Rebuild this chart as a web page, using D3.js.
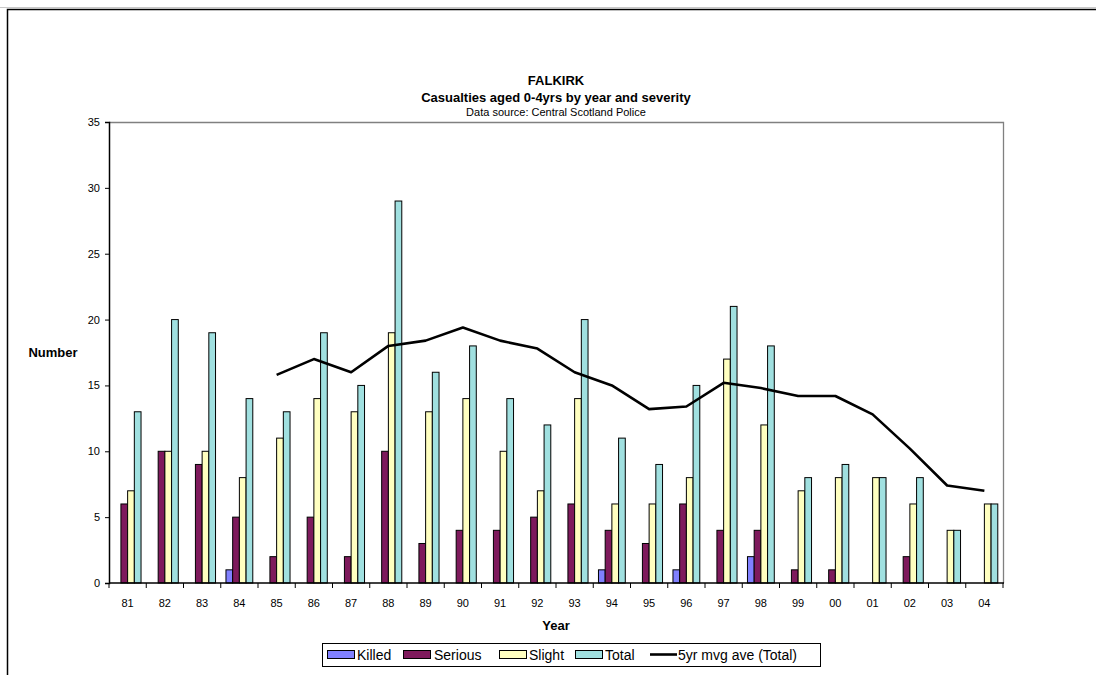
<!DOCTYPE html>
<html>
<head>
<meta charset="utf-8">
<script src="https://cdn.jsdelivr.net/npm/d3@7"></script>
<style>
  html, body { margin: 0; padding: 0; background: #fff; }
  svg { display: block; font-family: "Liberation Sans", Arial, sans-serif; }
</style>
</head>
<body>
<svg id="chart" width="1096" height="675"></svg>
<script>
// Road casualties aged 0-4, Falkirk, by year and severity
const years   = ["81","82","83","84","85","86","87","88","89","90","91","92","93","94","95","96","97","98","99","00","01","02","03","04"];
const killed  = [0,0,0,1,0,0,0,0,0,0,0,0,0,1,0,1,0,2,0,0,0,0,0,0];
const serious = [6,10,9,5,2,5,2,10,3,4,4,5,6,4,3,6,4,4,1,1,0,2,0,0];
const slight  = [7,10,10,8,11,14,13,19,13,14,10,7,14,6,6,8,17,12,7,8,8,6,4,6];
const total   = [13,20,19,14,13,19,15,29,16,18,14,12,20,11,9,15,21,18,8,9,8,8,4,6];
// 5-year moving average of Total (first value at 85)
const mvgYears = ["85","86","87","88","89","90","91","92","93","94","95","96","97","98","99","00","01","02","03","04"];
const mvgAve   = [15.8,17,16,18,18.4,19.4,18.4,17.8,16,15,13.2,13.4,15.2,14.8,14.2,14.2,12.8,10.2,7.4,7.0];
const yTicks   = [0,5,10,15,20,25,30,35];

const seriesNames  = ["Killed","Serious","Slight","Total"];
const seriesValues = [killed, serious, slight, total];
const seriesColors = ["#8080FF","#7E1A5C","#FFFFC0","#A0E0E0"];

const svg = d3.select("#chart");
const plot = { left: 109, right: 1003, top: 122, bottom: 583 };

// outer frame
svg.append("line").attr("x1", 0).attr("x2", 1096).attr("y1", 7.5).attr("y2", 7.5)
  .attr("stroke", "#c8c8c8").attr("stroke-width", 1);
svg.append("path").attr("d", "M7.5,675 V9.5 H1096")
  .attr("fill", "none").attr("stroke", "#000").attr("stroke-width", 1.5);

// titles
svg.append("text").attr("x", 556).attr("y", 85).attr("text-anchor", "middle")
  .attr("font-size", 13).attr("font-weight", "bold").text("FALKIRK");
svg.append("text").attr("x", 556).attr("y", 102).attr("text-anchor", "middle")
  .attr("font-size", 13).attr("font-weight", "bold").text("Casualties aged 0-4yrs by year and severity");
svg.append("text").attr("x", 556).attr("y", 116).attr("text-anchor", "middle")
  .attr("font-size", 11).text("Data source: Central Scotland Police");

const x = d3.scaleBand().domain(years).range([plot.left, plot.right]).padding(0);
const y = d3.scaleLinear().domain([0, 35]).range([plot.bottom, plot.top]);

const groupW = x.bandwidth() * 0.72;
const xs = d3.scaleBand().domain(seriesNames).range([0, groupW]).padding(0);
const groupOff = (x.bandwidth() - groupW) / 2;

// plot area border (top and right)
svg.append("path")
  .attr("d", `M${plot.left},${plot.top + 0.5} H${plot.right + 0.5} V${plot.bottom}`)
  .attr("fill", "none").attr("stroke", "#808080").attr("stroke-width", 1.3);

// bars
seriesNames.forEach((name, si) => {
  svg.append("g").selectAll("rect")
    .data(years.map((yr, i) => ({ yr, v: seriesValues[si][i] })).filter(d => d.v > 0))
    .join("rect")
    .attr("x", d => x(d.yr) + groupOff + xs(name))
    .attr("y", d => y(d.v))
    .attr("width", xs.bandwidth())
    .attr("height", d => y(0) - y(d.v))
    .attr("fill", seriesColors[si])
    .attr("stroke", "#000").attr("stroke-width", 1);
});

// moving average line
const line = d3.line()
  .x((d, i) => x(mvgYears[i]) + x.bandwidth() / 2)
  .y(d => y(d));
svg.append("path").datum(mvgAve).attr("d", line)
  .attr("fill", "none").attr("stroke", "#000").attr("stroke-width", 2.6)
  .attr("stroke-linejoin", "round");

// y axis
const yAxis = svg.append("g").attr("transform", `translate(${plot.left},0)`)
  .call(d3.axisLeft(y).tickValues(yTicks).tickSize(4).tickPadding(5));
yAxis.select(".domain").attr("stroke", "#000").attr("stroke-width", 1.5);
yAxis.selectAll(".tick line").attr("stroke", "#000");
yAxis.selectAll("text").attr("font-size", 11).attr("font-family", "Liberation Sans, Arial, sans-serif").attr("fill", "#000");

// x axis with ticks between categories
const xAxisG = svg.append("g").attr("transform", `translate(0,${plot.bottom})`);
xAxisG.append("line").attr("x1", plot.left).attr("x2", plot.right + 1)
  .attr("stroke", "#000").attr("stroke-width", 1.5);
const edges = years.map(yr => x(yr)).concat([plot.right]);
xAxisG.selectAll("line.tk").data(edges).join("line").attr("class", "tk")
  .attr("x1", d => d).attr("x2", d => d).attr("y1", 0).attr("y2", 5)
  .attr("stroke", "#000").attr("stroke-width", 1);
xAxisG.selectAll("text").data(years).join("text")
  .attr("x", d => x(d) + x.bandwidth() / 2).attr("y", 24)
  .attr("text-anchor", "middle").attr("font-size", 11).text(d => d);

// axis titles
svg.append("text").attr("x", 53).attr("y", 357).attr("text-anchor", "middle")
  .attr("font-size", 13).attr("font-weight", "bold").text("Number");
svg.append("text").attr("x", 556).attr("y", 630).attr("text-anchor", "middle")
  .attr("font-size", 13).attr("font-weight", "bold").text("Year");

// legend
const legend = svg.append("g");
legend.append("rect").attr("x", 322.5).attr("y", 643.5).attr("width", 498).attr("height", 23)
  .attr("fill", "#fff").attr("stroke", "#000").attr("stroke-width", 1);
const legItems = [
  { name: "Killed",  sx: 327, tx: 357 },
  { name: "Serious", sx: 403, tx: 434 },
  { name: "Slight",  sx: 499, tx: 529 },
  { name: "Total",   sx: 575, tx: 605 }
];
legItems.forEach((it, i) => {
  legend.append("rect").attr("x", it.sx + 0.5).attr("y", 650.5).attr("width", 27).attr("height", 8)
    .attr("fill", seriesColors[i]).attr("stroke", "#000").attr("stroke-width", 1);
  legend.append("text").attr("x", it.tx).attr("y", 660).attr("font-size", 14).text(it.name);
});
legend.append("line").attr("x1", 650).attr("x2", 677).attr("y1", 654.5).attr("y2", 654.5)
  .attr("stroke", "#000").attr("stroke-width", 2.6);
legend.append("text").attr("x", 678).attr("y", 660).attr("font-size", 14).text("5yr mvg ave (Total)");
</script>
</body>
</html>
